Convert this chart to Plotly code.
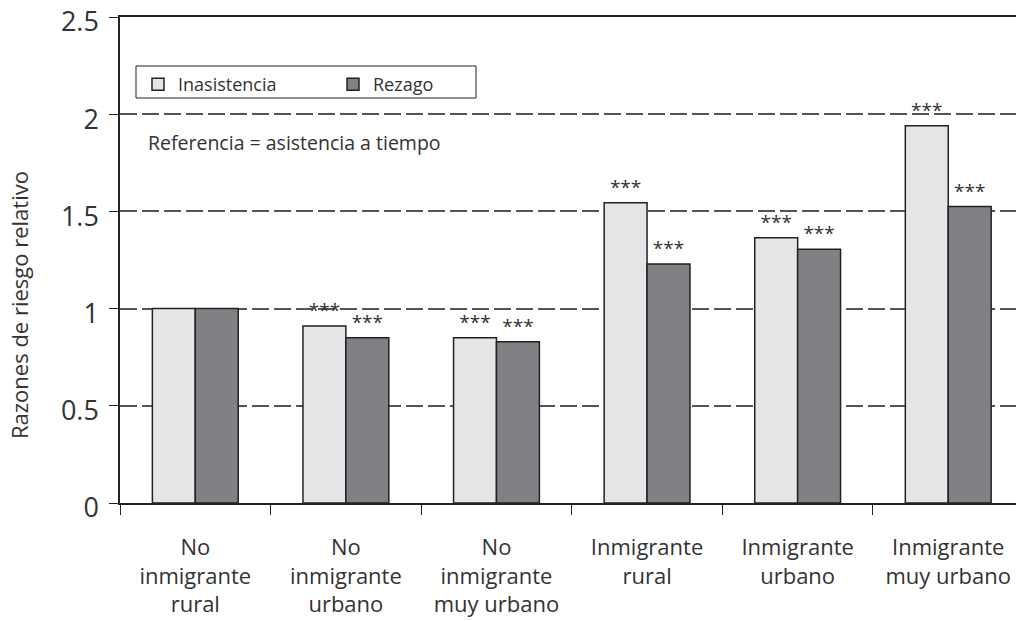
import plotly.graph_objects as go

categories = ["No<br>inmigrante<br>rural", "No<br>inmigrante<br>urbano", "No<br>inmigrante<br>muy urbano",
              "Inmigrante<br>rural", "Inmigrante<br>urbano", "Inmigrante<br>muy urbano"]
inasistencia = [1.0, 0.91, 0.85, 1.545, 1.365, 1.94]
rezago = [1.0, 0.85, 0.83, 1.23, 1.305, 1.525]
sig_inasistencia = ["", "***", "***", "***", "***", "***"]
sig_rezago = ["", "***", "***", "***", "***", "***"]
yticks = [0, 0.5, 1, 1.5, 2, 2.5]
yticklabels = ["0", "0.5", "1", "1.5", "2", "2.5"]

FONT = "Open Sans"
TXT = "#333333"
W, H = 1016, 621
L, R, T, B = 120, 0, 17, 118

fig = go.Figure()
fig.add_trace(go.Bar(
    name="Inasistencia", x=categories, y=inasistencia,
    marker=dict(color="#E4E5E7", line=dict(color="#222222", width=1.5)),
    text=sig_inasistencia, textposition="outside", cliponaxis=False,
    textfont=dict(family=FONT, size=19, color=TXT),
))
fig.add_trace(go.Bar(
    name="Rezago", x=categories, y=rezago,
    marker=dict(color="#808185", line=dict(color="#222222", width=1.5)),
    text=sig_rezago, textposition="outside", cliponaxis=False,
    textfont=dict(family=FONT, size=19, color=TXT),
))

pw = W - L - R
ph = H - T - B

def px_x(x):
    return (x - L) / pw

def px_y(y):
    return (H - B - y) / ph

fig.update_layout(
    width=W, height=H,
    margin=dict(l=L, r=R, t=T, b=B, autoexpand=False),
    plot_bgcolor="white", paper_bgcolor="white",
    barmode="group", bargap=0.43, bargroupgap=0,
    font=dict(family=FONT, color=TXT),
    showlegend=True,
    legend=dict(
        orientation="h", x=px_x(138), y=px_y(66), xanchor="left", yanchor="top",
        borderwidth=0, bgcolor="rgba(0,0,0,0)",
        font=dict(family=FONT, size=18, color=TXT),
        entrywidth=150, entrywidthmode="pixels",
        itemwidth=30, tracegroupgap=0,
    ),
    uniformtext=dict(mode="show", minsize=14),
    yaxis2=dict(
        overlaying="y", side="left", range=[0, 2.5], tickvals=yticks,
        showticklabels=False, ticks="", showline=False, zeroline=False,
        showgrid=True, gridcolor="#BDBDBD", gridwidth=1,
    ),
)

# legend frame
fig.add_shape(type="rect", xref="paper", yref="paper",
              x0=px_x(136), x1=px_x(476), y0=px_y(98), y1=px_y(66),
              line=dict(color="#222222", width=1), fillcolor="rgba(0,0,0,0)", layer="above")

fig.update_xaxes(
    range=[-0.5, 5.45], automargin=False,
    showline=True, linecolor="#222222", linewidth=1.5, mirror=True,
    ticks="outside", tickson="boundaries", ticklen=10, tickcolor="#222222",
    tickfont=dict(family=FONT, size=22, color=TXT),
    ticklabelstandoff=24, ticklabeloverflow="allow",
    showgrid=False,
)
fig.layout.yaxis.update(
    range=[0, 2.5], tickvals=yticks, ticktext=yticklabels, automargin=False,
    showline=True, linecolor="#222222", linewidth=1.5,
    ticks="outside", ticklen=9, tickcolor="#222222",
    tickfont=dict(family=FONT, size=27, color=TXT),
    ticklabelstandoff=5, ticklabeloverflow="allow", ticklabelshift=5,
    showgrid=True, gridcolor="#555555", gridwidth=1.5, griddash="17px,5px",
    zeroline=False,
)

fig.add_annotation(
    text="Razones de riesgo relativo", textangle=-90,
    xref="paper", yref="paper", x=px_x(19), y=px_y(305),
    xanchor="center", yanchor="middle", showarrow=False,
    font=dict(family=FONT, size=22, color=TXT),
)
fig.add_annotation(
    text="Referencia = asistencia a tiempo",
    xref="paper", yref="paper", x=px_x(146), y=px_y(142),
    xanchor="left", yanchor="middle", showarrow=False,
    font=dict(family=FONT, size=19.5, color=TXT),
)

fig.write_html("out.html", config={"displayModeBar": False},
               post_script="document.body.style.margin='0';document.body.style.padding='0';")
